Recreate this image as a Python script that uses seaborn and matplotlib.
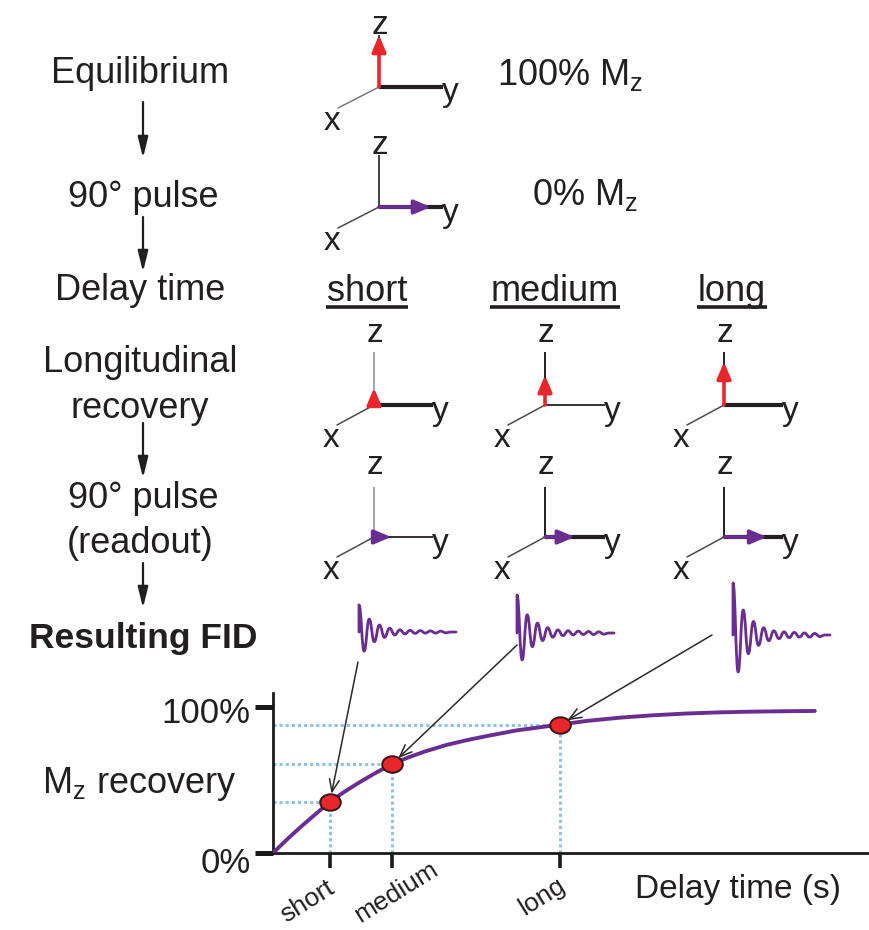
import matplotlib
matplotlib.use("Agg")
import matplotlib.pyplot as plt
import matplotlib.transforms as mtransforms
from matplotlib.patches import FancyArrowPatch, PathPatch
from matplotlib.path import Path
import seaborn as sns
import pandas as pd

# ---------------- data ----------------
delay_time = [0, 0.25, 0.5, 0.75, 1.05, 1.3, 1.6, 1.9, 2.2, 2.5, 2.8, 3.2, 3.6,
              4.0, 4.5, 5.3, 5.8, 6.4, 7.0, 7.6, 8.2, 8.8, 9.4, 10.0]
mz_recovery = [0, 9, 17.5, 25.5, 35, 41.5, 48.5, 55, 61, 65.5, 69.5, 74, 77.5,
               80.5, 84, 88, 90.5, 92.7, 94.3, 95.5, 96.3, 96.8, 97.1, 97.3]

sample_labels = ["short", "medium", "long"]
sample_delay = [1.05, 2.2, 5.3]
sample_recovery = [35, 61, 88]

equilibrium_mz = 100
pulse_mz = 0
fid_signal = [0.52, 0.73, 1.0]
fid_peaks = [1.0, -0.71, 0.48, -0.36, 0.26, -0.2, 0.14, -0.11, 0.08,
             -0.07, 0.06, -0.05, 0.05, -0.04, 0.04, -0.04, 0.03, -0.03]

y_tick_values = [0, 100]
y_tick_labels = ["0%", "100%"]

step_labels = ["Equilibrium", "90° pulse", "Delay time", "Longitudinal",
               "recovery", "90° pulse", "(readout)"]
fid_title = "Resulting FID"
x_label = "Delay time (s)"
y_label = "M$_\\mathregular{z}$ recovery"
eq_label = "100% M$_\\mathregular{z}$"
pulse_label = "0% M$_\\mathregular{z}$"

# ---------------- style ----------------
sns.set_theme(style="ticks")
plt.rcParams["font.family"] = ["Liberation Sans", "DejaVu Sans"]
plt.rcParams["mathtext.fontset"] = "custom"
plt.rcParams["mathtext.rm"] = "Liberation Sans"
plt.rcParams["mathtext.it"] = "Liberation Sans:italic"

PURPLE = "#6a2d91"
RED = "#e8262b"
INK = "#231f20"
GREY = "#a5a5a5"
BLUE = "#8cc1ea"

fig = plt.figure(figsize=(8.69, 9.30), dpi=100)
bg = fig.add_axes([0, 0, 1, 1])
bg.set_xlim(0, 869)
bg.set_ylim(930, 0)
bg.axis("off")

# ---------------- left column ----------------
step_pos = [(140, 83), (143, 207), (140, 300), (140, 372), (140, 418), (143, 508), (140, 553)]
for lab, (x, y) in zip(step_labels, step_pos):
    bg.text(x, y, lab, ha="center", va="baseline", fontsize=26, color=INK)
bg.text(143, 648, fid_title, ha="center", va="baseline", fontsize=25.5,
        fontweight="bold", color=INK)
for y0, y1 in [(102, 158), (217, 272), (423, 478), (563, 608)]:
    bg.annotate("", xy=(143, y1), xytext=(143, y0),
                arrowprops=dict(arrowstyle="-|>,head_length=0.9,head_width=0.22",
                                color=INK, lw=1.6, mutation_scale=14,
                                shrinkA=0, shrinkB=0))


def vec_arrow(p0, p1, color):
    bg.add_patch(FancyArrowPatch(p0, p1,
                                 arrowstyle="-|>,head_length=1.0,head_width=0.42",
                                 mutation_scale=10, color=color, lw=2.6,
                                 shrinkA=0, shrinkB=0, zorder=5))


def frame(ox, oy, zlen, ylen, xdx, xdy, zcolor, zlw, ylw, zgap, xcolor="#4a4a4a"):
    bg.plot([ox, ox], [oy, oy - zlen], color=zcolor, lw=zlw, solid_capstyle="butt", zorder=2)
    bg.plot([ox, ox + ylen], [oy, oy], color=INK, lw=ylw, solid_capstyle="butt", zorder=2)
    bg.plot([ox, ox + xdx], [oy, oy + xdy], color=xcolor, lw=1.1, zorder=2)
    bg.text(ox + 1, oy - zlen - zgap, "z", ha="center", va="center", fontsize=24, color=INK)
    bg.text(ox + ylen + 7, oy + 6, "y", ha="center", va="center", fontsize=24, color=INK)
    bg.text(ox + xdx - 6, oy + xdy + 13, "x", ha="center", va="center", fontsize=24, color=INK)


FULL = 52
# equilibrium
frame(379, 87, FULL, 64, -41, 21, INK, 1.2, 3.0, 10, xcolor="#7a7a7a")
vec_arrow((379, 87), (379, 87 - FULL * equilibrium_mz / 100), RED)
bg.text(570, 85, eq_label, ha="center", va="baseline", fontsize=26, color=INK)
# first 90 pulse
frame(379, 207, FULL, 64, -41, 21, INK, 1.2, 3.0, 10)
vec_arrow((379, 207), (379 + FULL * (100 - pulse_mz) / 100, 207), PURPLE)
bg.text(585, 205, pulse_label, ha="center", va="baseline", fontsize=26, color=INK)

# delay columns
col_x = [374, 545, 724]
col_ylen = [59, 60, 59]
col_zcolor = [GREY, INK, INK]
row3_ylw = [3.0, 1.3, 3.0]
row4_ylw = [1.3, 3.0, 3.0]
head_cx = [367, 555, 732]
VLEN = 49
renderer = fig.canvas.get_renderer()
for i, lab in enumerate(sample_labels):
    t = bg.text(head_cx[i], 301, lab, ha="center", va="baseline", fontsize=26, color=INK)
    bb = t.get_window_extent(renderer=renderer).transformed(bg.transData.inverted())
    x0, x1 = sorted([bb.x0, bb.x1])
    bg.plot([x0 - 1, x1 + 1], [307, 307], color=INK, lw=2.6, solid_capstyle="butt")
    ox = col_x[i]
    # longitudinal recovery row
    frame(ox, 405, 53, col_ylen[i], -37, 20, col_zcolor[i], 1.4, row3_ylw[i], 19)
    vec_arrow((ox, 405), (ox, 405 - VLEN * sample_recovery[i] / 100), RED)
    # readout row
    frame(ox, 537, 50, col_ylen[i], -37, 20, col_zcolor[i], 1.4, row4_ylw[i], 22)
    vec_arrow((ox, 537), (ox + VLEN * sample_recovery[i] / 100, 537), PURPLE)


# ---------------- FIDs ----------------
def draw_fid(x0, base, amp, width):
    n = len(fid_peaks)
    step = width / (n + 1)
    py = base - amp * fid_peaks[0]
    verts = [(x0, base), (x0, py)]
    codes = [Path.MOVETO, Path.LINETO]
    px = x0
    for k in range(1, n):
        nx = x0 + k * step
        ny = base - amp * fid_peaks[k]
        verts += [(px + 0.45 * step, py), (nx - 0.45 * step, ny), (nx, ny)]
        codes += [Path.CURVE4] * 3
        px, py = nx, ny
    nx = px + step
    verts += [(px + 0.45 * step, py), (nx - 0.45 * step, base), (nx, base)]
    codes += [Path.CURVE4] * 3
    verts.append((x0 + width, base))
    codes.append(Path.LINETO)
    bg.add_patch(PathPatch(Path(verts, codes), fill=False, edgecolor=PURPLE,
                           lw=2.0, capstyle="round", joinstyle="round"))


fid_x = [359, 517, 733]
fid_base = [632, 633, 635]
for i in range(3):
    draw_fid(fid_x[i], fid_base[i], 52 * fid_signal[i], 97)

# ---------------- recovery plot ----------------
ax = fig.add_axes([273 / 869, 77 / 930, 596 / 869, 160 / 930])
ax.patch.set_alpha(0)
df_curve = pd.DataFrame({"delay": delay_time, "mz": mz_recovery})
df_pts = pd.DataFrame({"delay": sample_delay, "mz": sample_recovery, "label": sample_labels})

ellipse = Path.unit_circle().transformed(mtransforms.Affine2D().scale(1.0, 0.8))

ax.hlines(sample_recovery, 0, sample_delay, colors=BLUE, linestyles=(0, (1, 1)), lw=2.2, zorder=1)
ax.vlines(sample_delay, 0, sample_recovery, colors=BLUE, linestyles=(0, (1, 1)), lw=2.2, zorder=1)
sns.lineplot(data=df_curve, x="delay", y="mz", color=PURPLE, lw=2.8, ax=ax, zorder=3)
sns.scatterplot(data=df_pts, x="delay", y="mz", s=220, color=RED, edgecolor="#3a1515",
                marker=ellipse, linewidth=1.4, zorder=5, ax=ax, clip_on=False)
ax.set_xlim(0, 11.0)
ax.set_ylim(0, 109.6)
sns.despine(ax=ax)
for s in ["left", "bottom"]:
    ax.spines[s].set_linewidth(2.0)
    ax.spines[s].set_color("#1a1a1a")

ax.set_yticks(y_tick_values, y_tick_labels)
ax.set_xticks(sample_delay, sample_labels)
ax.tick_params(axis="y", length=13, width=3.6, color="#1a1a1a", labelsize=25,
               labelcolor=INK, pad=3, direction="out", left=True)
ax.tick_params(axis="x", length=10.5, width=2.6, color="#1a1a1a", labelsize=19,
               labelcolor=INK, pad=2, direction="out", bottom=True)

ax.set_xlabel(x_label, fontsize=24, color=INK)
ax.xaxis.set_label_coords((738 - 273) / 596, -(889 - 853) / 160)
ax.xaxis.label.set_va("center")
ax.set_ylabel(y_label, rotation=0, fontsize=26, color=INK, ha="right", va="baseline")
ax.yaxis.set_label_coords((237 - 273) / 596, (853 - 793) / 160)

# arrows from each FID to its point on the curve
fid_arrow_start = [(358, 662), (517, 645), (712, 635)]
for (sx, sy), d, r in zip(fid_arrow_start, sample_delay, sample_recovery):
    ax.annotate("", xy=(d, r), xycoords="data", xytext=(sx, sy), textcoords=bg.transData,
                arrowprops=dict(arrowstyle="->,head_length=0.55,head_width=0.22",
                                color="#2a2a2a", lw=1.1, mutation_scale=16,
                                shrinkA=0, shrinkB=6),
                annotation_clip=False)

# tick label placement (layout offsets in pixels)
x_offsets = [(-4, 5), (38, -13), (-3, 3)]
for lbl, (dx, dy) in zip(ax.get_xticklabels(), x_offsets):
    lbl.set_rotation(32)
    lbl.set_ha("right")
    lbl.set_va("top")
    lbl.set_rotation_mode("anchor")
    lbl.set_transform(lbl.get_transform() +
                      mtransforms.ScaledTranslation(dx / 100, -dy / 100, fig.dpi_scale_trans))
y_offsets = [7, 3]
for lbl, dy in zip(ax.get_yticklabels(), y_offsets):
    lbl.set_transform(lbl.get_transform() +
                      mtransforms.ScaledTranslation(0, -dy / 100, fig.dpi_scale_trans))

fig.savefig("out.png", dpi=100)
